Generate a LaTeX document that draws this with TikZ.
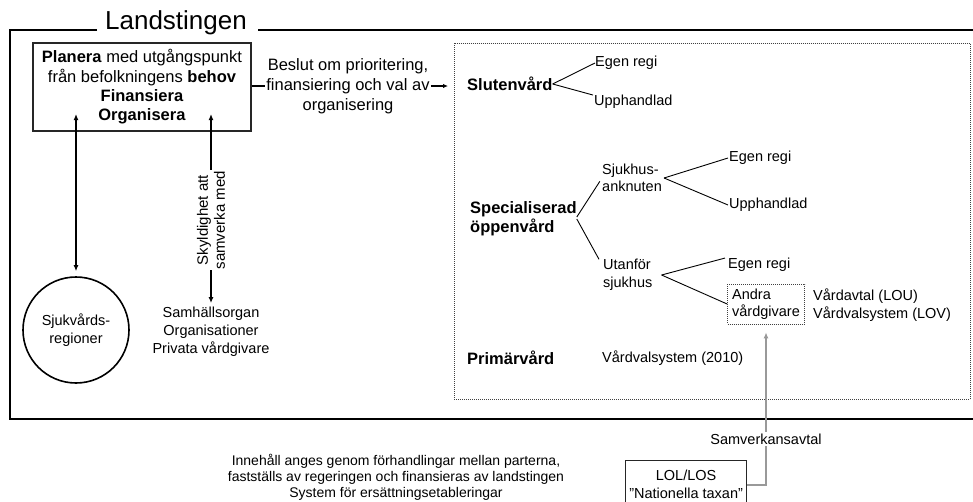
\documentclass[tikz,border=0pt]{standalone}
\usepackage{fontspec}
\setmainfont{Liberation Sans}
\usetikzlibrary{arrows.meta}
\newcommand\fsz[2]{\fontsize{#1}{#2}\selectfont}
\begin{document}
\begin{tikzpicture}[x=1pt,y=-1pt,
  frame/.style={line width=2pt},
  txt/.style={inner sep=0pt, font=\fsz{14.5}{17.5}},
  big/.style={inner sep=0pt, font=\fsz{16.5}{19}\bfseries},
  arr2/.style={line width=1.5pt, {Latex[length=6pt,width=5pt]}-{Latex[length=6pt,width=5pt]}},
  arr/.style={line width=1.3pt, -{Latex[length=5pt,width=4.5pt]}},
  br/.style={line width=0.9pt},
  dotbox/.style={draw=black!75, dash pattern=on 1pt off 1pt, line width=0.8pt},
  grayline/.style={draw=black!40, line width=2pt}
]
\useasboundingbox (0,0) rectangle (973,501);
\clip (0,0) rectangle (973,501);

% title and frame
\node[anchor=base, font=\fsz{26}{30}, inner sep=0pt] (title) at (176,29) {Landstingen};
\draw[frame] (97,30) -- (10,30) -- (10,419) -- (985,419);
\draw[frame] (258,30) -- (985,30);

% dotted care region
\node[dotbox, minimum width=516, minimum height=356, inner sep=0pt, anchor=north west] (care) at (454,43) {};

% planning box
\node[draw=black!85, line width=1.2pt, minimum width=218, minimum height=88, align=center,
      font=\fsz{16.5}{19.3}, inner sep=0pt] (plan) at (142,87)
  {\textbf{Planera} med utgångspunkt\\från befolkningens \textbf{behov}\\\textbf{Finansiera}\\\textbf{Organisera}};

\node[align=center, font=\fsz{16.5}{20}, inner sep=1pt] (beslut) at (348,86)
  {Beslut om prioritering,\\finansiering och val av\\organisering};
\draw[line width=1.2pt] (plan.east |- beslut.center) -- (beslut.west);
\draw[arr, shorten >=6pt] (beslut.east) -- (care.west |- beslut.east);

% left side
\coordinate (u1) at (76,114);
\node[circle, draw, line width=1.6pt, minimum size=106, align=center,
      font=\fsz{14.5}{18}, inner sep=0pt] (sjv) at (76,330) {Sjukvårds-\\regioner};
\draw[arr2, shorten >=5pt] (u1) -- (sjv);

\coordinate (u2) at (211,114);
\node[align=center, font=\fsz{14.5}{18}, inner sep=0pt] (samh) at (211,332)
  {Samhällsorgan\\Organisationer\\Privata vårdgivare};
\draw[arr2, shorten >=4pt] (u2) -- (samh.north)
  node[pos=0.55, rotate=90, fill=white, align=center, font=\fsz{15}{17}, inner sep=1pt] (skyl)
  {Skyldighet att\\samverka med};

% Slutenvård
\node[big, anchor=west] (slut) at (467,84) {Slutenvård};
\node[txt, anchor=west] (eg1) at (595,63) {Egen regi};
\node[txt, anchor=west] (up1) at (594,102) {Upphandlad};
\draw[br] (slut.east) -- (eg1.west);
\draw[br] (slut.east) -- ([xshift=-1pt]up1.north west);

% Specialiserad öppenvård
\node[big, anchor=west, align=left] (spec) at (470,219) {Specialiserad\\öppenvård};
\node[txt, align=left, anchor=west] (sjuk) at (602,178) {Sjukhus-\\anknuten};
\node[txt, anchor=west] (eg2) at (729,158) {Egen regi};
\node[txt, anchor=west] (up2) at (729,205) {Upphandlad};
\draw[br, shorten >=4pt] ([yshift=2pt]spec.east) -- (sjuk.west);
\draw[br] ([xshift=2pt]sjuk.east) -- ([xshift=-1pt]eg2.west);
\draw[br] ([xshift=2pt]sjuk.east) -- ([xshift=-1pt]up2.west);

\node[txt, align=left, anchor=west] (utan) at (603,275) {Utanför\\sjukhus};
\node[txt, anchor=west] (eg3) at (728,265) {Egen regi};
\node[dotbox, align=left, font=\fsz{14.5}{17}, inner sep=2pt, minimum width=77,
      minimum height=40] (andra) at (766,304) {Andra\\vårdgivare};
\draw[br] (spec.east) -- ([xshift=-4pt]utan.north west);
\draw[br] ([xshift=9pt]utan.east) -- ([xshift=-3pt]eg3.north west);
\draw[br] ([xshift=9pt]utan.east) -- (andra.west);
\node[txt, align=left, anchor=west] (avt) at (813,305) {Vårdavtal (LOU)\\Vårdvalsystem (LOV)};

% Primärvård
\node[big, anchor=west] (prim) at (467,358) {Primärvård};
\node[txt, anchor=west] (vv) at (602,358) {Vårdvalsystem (2010)};

% bottom
\node[align=center, font=\fsz{14}{16}, inner sep=0pt] (inneh) at (396,477)
  {Innehåll anges genom förhandlingar mellan parterna,\\fastställs av regeringen och finansieras av landstingen\\System för ersättningsetableringar};
\node[draw=black!85, line width=1.2pt, align=center, font=\fsz{14.5}{18}, minimum width=121,
      minimum height=48, inner sep=0pt, anchor=north west] (lol) at (625,460)
  {LOL/LOS\\”Nationella taxan”};
\draw[grayline, -{Latex[length=6pt,width=5pt]}, shorten >=8pt]
  (lol.east) -- (lol.east -| andra.south) -- (andra.south);
\node[txt, fill=white, inner sep=2pt] (samv) at (766,439) {Samverkansavtal};
\end{tikzpicture}
\end{document}
